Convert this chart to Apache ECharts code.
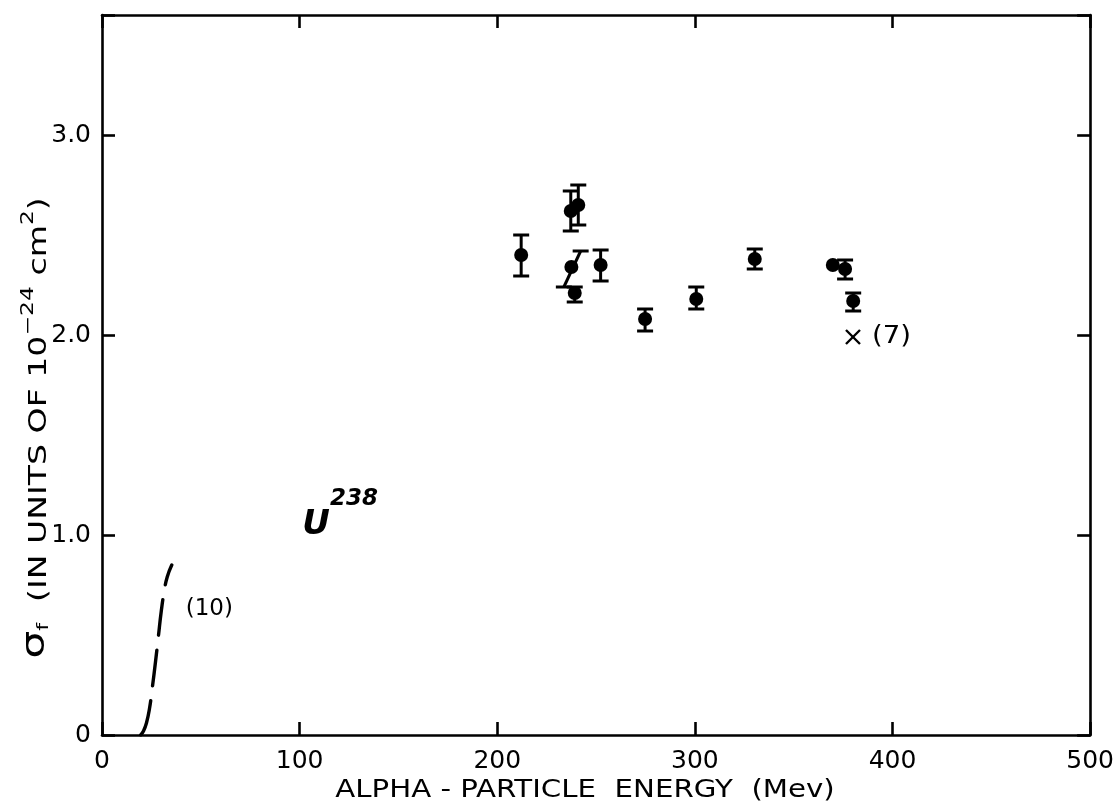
<!DOCTYPE html>
<html>
<head>
<meta charset="utf-8">
<title>U238 fission cross section vs alpha-particle energy</title>
<script src="https://cdn.jsdelivr.net/npm/echarts@6/dist/echarts.min.js"></script>
<style>
  html, body { margin: 0; padding: 0; background: #fff; overflow: hidden; }
  #chart { width: 1117px; height: 811px; }
</style>
</head>
<body>
<div id="chart"></div>
<script>
// Measured fission cross sections (units of 1e-24 cm^2) against alpha energy (MeV)
const energy    = [212.1, 237.2, 241.0, 237.5, 239.2, 252.3, 274.8, 300.7, 330.3, 376.0, 380.1];
const sigma     = [2.40, 2.62, 2.65, 2.34, 2.21, 2.35, 2.08, 2.18, 2.38, 2.33, 2.17];
const sigmaLow  = [2.295, 2.52, 2.55, 2.24, 2.165, 2.27, 2.02, 2.13, 2.33, 2.28, 2.12];
const sigmaHigh = [2.50, 2.72, 2.75, 2.42, 2.24, 2.425, 2.13, 2.24, 2.43, 2.375, 2.21];
// Energy at the lower / upper end of each error bar (one bar is drawn tilted)
const barLowEnergy  = [212.1, 237.2, 241.0, 233.7, 239.2, 252.3, 274.8, 300.7, 330.3, 376.0, 380.1];
const barHighEnergy = [212.1, 237.2, 241.0, 242.2, 239.2, 252.3, 274.8, 300.7, 330.3, 376.0, 380.1];

// Single point quoted without an error bar
const loneEnergy = [369.8];
const loneSigma  = [2.35];

// Value from reference (7)
const refSevenEnergy = [380.0];
const refSevenSigma  = [1.99];

// Low-energy excitation curve from reference (10)
const curveEnergy = [19.6, 21.0, 22.5, 24.0, 25.5, 27.0, 28.5, 30.0, 31.5, 33.0, 35.3];
const curveSigma  = [0.0, 0.02, 0.06, 0.13, 0.24, 0.36, 0.49, 0.62, 0.72, 0.79, 0.85];

// Axis ticks
const xTicks = [0, 100, 200, 300, 400, 500];
const yTicks = [0, 1, 2, 3];

// Nuclide tag position (MeV, cross section)
const nuclideAt = [108.3, 1.05];

const ink = '#000';
const font = 'DejaVu Sans';

const chart = echarts.init(document.getElementById('chart'), null, { renderer: 'canvas' });

const yLabel = v => {
  if (!yTicks.some(t => Math.abs(t - v) < 1e-9)) return '';
  return v === 0 ? '0' : v.toFixed(1);
};

const frameAxis = () => ({
  axisLine: { show: true, onZero: false, lineStyle: { color: ink, width: 2.6 } },
  axisTick: { show: true, inside: true, length: 13, lineStyle: { color: ink, width: 2.6 } },
  splitLine: { show: false }
});

chart.setOption({
  backgroundColor: '#fff',
  animation: false,
  grid: { left: 102, right: 17, top: 15, bottom: 76, containLabel: false },
  xAxis: [
    Object.assign({
      type: 'value', position: 'bottom', min: 0, max: 500, interval: 100,
      axisLabel: {
        color: ink, fontFamily: font, fontSize: 25, margin: 14,
        formatter: v => (xTicks.includes(v) ? String(v) : '')
      }
    }, frameAxis()),
    Object.assign({
      type: 'value', position: 'top', min: 0, max: 500, interval: 100,
      axisLabel: { show: false }
    }, frameAxis())
  ],
  yAxis: [
    Object.assign({
      type: 'value', position: 'left', min: 0, max: 3.6, interval: 1,
      axisLabel: { color: ink, fontFamily: font, fontSize: 25, margin: 11, formatter: yLabel }
    }, frameAxis()),
    Object.assign({
      type: 'value', position: 'right', min: 0, max: 3.6, interval: 1,
      axisLabel: { show: false }
    }, frameAxis())
  ],
  graphic: [
    {
      // x-axis title, stretched lettering
      type: 'text', x: 585, y: 790, scaleX: 1.17,
      style: {
        text: 'ALPHA - PARTICLE  ENERGY  (Mev)',
        font: '25px "DejaVu Sans"', fill: ink, align: 'center', verticalAlign: 'middle'
      }
    },
    {
      // y-axis title, rotated and stretched
      type: 'text', x: 36, y: 428, rotation: Math.PI / 2, scaleX: 1.38,
      style: {
        text: '{s|σ}{sub|f}{t|  (IN UNITS OF 10}{sup|−24}{t| cm}{sup|2}{t|)}',
        align: 'center', verticalAlign: 'middle', fill: ink,
        rich: {
          s:   { fontFamily: font, fontSize: 32, lineHeight: 32, verticalAlign: 'bottom', fill: ink },
          sub: { fontFamily: font, fontSize: 16, lineHeight: 32, verticalAlign: 'bottom', fill: ink },
          t:   { fontFamily: font, fontSize: 24, lineHeight: 32, verticalAlign: 'bottom', fill: ink },
          sup: { fontFamily: font, fontSize: 17, lineHeight: 32, verticalAlign: 'top', fill: ink }
        }
      }
    }
  ],
  series: [
    {
      name: 'curve (10)', type: 'line', smooth: true, symbol: 'none',
      data: curveEnergy.map((e, i) => [e, curveSigma[i]]),
      lineStyle: { color: ink, width: 3.4, type: [36, 15], cap: 'round' },
      endLabel: {
        show: true, formatter: '(10)', color: ink, fontFamily: font, fontSize: 23,
        offset: [6, 44]
      },
      z: 3
    },
    {
      name: 'error bars', type: 'custom',
      data: energy.map((e, i) => [e, sigma[i], sigmaLow[i], sigmaHigh[i], barLowEnergy[i], barHighEnergy[i]]),
      encode: { x: 0, y: 1 },
      renderItem: (params, api) => {
        const pLo = api.coord([api.value(4), api.value(2)]);
        const pHi = api.coord([api.value(5), api.value(3)]);
        const w = 8;
        const s = { stroke: ink, lineWidth: 3 };
        return {
          type: 'group',
          children: [
            { type: 'line', shape: { x1: pLo[0], y1: pLo[1], x2: pHi[0], y2: pHi[1] }, style: s },
            { type: 'line', shape: { x1: pLo[0] - w, y1: pLo[1], x2: pLo[0] + w, y2: pLo[1] }, style: s },
            { type: 'line', shape: { x1: pHi[0] - w, y1: pHi[1], x2: pHi[0] + w, y2: pHi[1] }, style: s }
          ]
        };
      },
      z: 4
    },
    {
      name: 'measured', type: 'scatter', symbol: 'circle', symbolSize: 14,
      data: energy.map((e, i) => [e, sigma[i]]),
      itemStyle: { color: ink, opacity: 1 },
      z: 5
    },
    {
      name: 'single', type: 'scatter', symbol: 'circle', symbolSize: 14,
      data: loneEnergy.map((e, i) => [e, loneSigma[i]]),
      itemStyle: { color: ink, opacity: 1 },
      z: 5
    },
    {
      name: 'reference (7)', type: 'custom',
      data: refSevenEnergy.map((e, i) => [e, refSevenSigma[i]]),
      encode: { x: 0, y: 1 },
      renderItem: (params, api) => {
        const p = api.coord([api.value(0), api.value(1)]);
        const h = 7;
        const s = { stroke: ink, lineWidth: 2.4 };
        return {
          type: 'group',
          children: [
            { type: 'line', shape: { x1: p[0] - h, y1: p[1] - h, x2: p[0] + h, y2: p[1] + h }, style: s },
            { type: 'line', shape: { x1: p[0] - h, y1: p[1] + h, x2: p[0] + h, y2: p[1] - h }, style: s },
            {
              type: 'text', x: p[0] + 19, y: p[1], scaleX: 1.15,
              style: { text: '(7)', fill: ink, font: '24px "DejaVu Sans"', verticalAlign: 'middle', align: 'left' }
            }
          ]
        };
      },
      z: 5
    },
    {
      name: 'nuclide', type: 'custom',
      data: [nuclideAt],
      encode: { x: 0, y: 1 },
      renderItem: (params, api) => {
        const p = api.coord([api.value(0), api.value(1)]);
        return {
          type: 'group',
          children: [
            {
              type: 'text', x: p[0], y: p[1],
              style: { text: 'U', fill: ink, font: 'italic bold 34px "DejaVu Sans"', align: 'center', verticalAlign: 'middle' }
            },
            {
              type: 'text', x: p[0] + 14, y: p[1] - 14,
              style: { text: '238', fill: ink, font: 'italic bold 23px "DejaVu Sans"', align: 'left', verticalAlign: 'bottom' }
            }
          ]
        };
      },
      silent: true
    }
  ]
});
</script>
</body>
</html>
